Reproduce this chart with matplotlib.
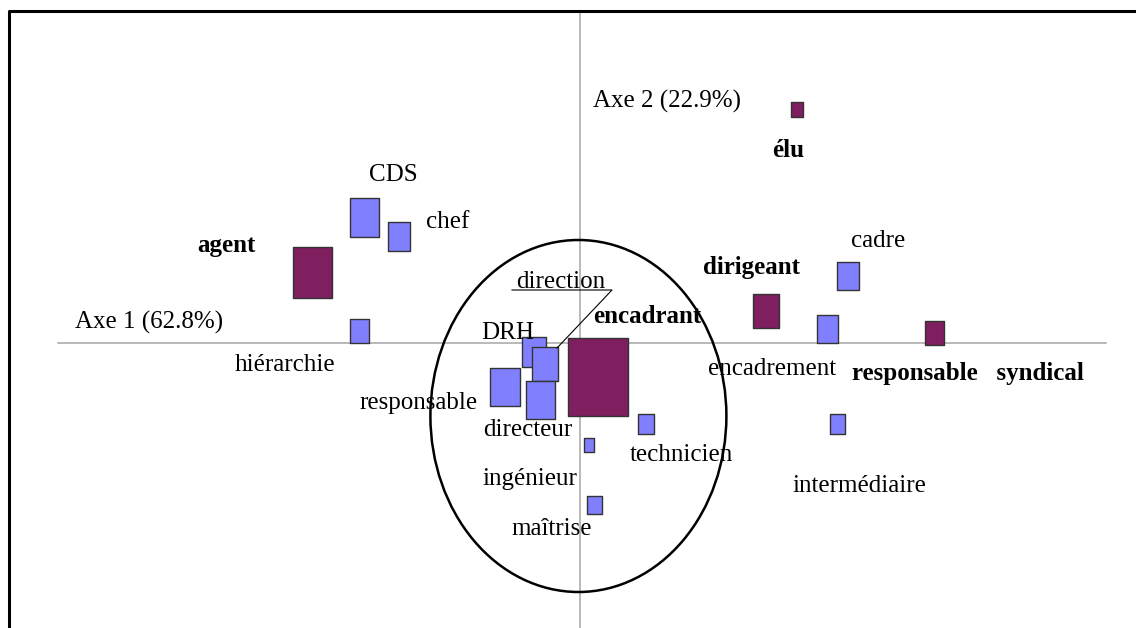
import matplotlib
matplotlib.use("Agg")
import matplotlib.pyplot as plt
import numpy as np
from matplotlib.patches import Ellipse
from matplotlib.path import Path
from matplotlib.lines import Line2D

# coordonnees des modalites sur les axes 1 et 2
mots = ['CDS', 'chef', 'hiérarchie', 'agent', 'DRH', 'direction', 'responsable',
        'directeur', 'encadrant', 'technicien', 'ingénieur', 'maîtrise', 'élu',
        'dirigeant', 'cadre', 'encadrement', 'responsable   syndical', 'intermédiaire']
axe1 = [-0.539, -0.453, -0.551, -0.669, -0.115, -0.0875, -0.1875, -0.099, 0.045,
        0.165, 0.0225, 0.036, 0.5425, 0.465, 0.67, 0.619, 0.886, 0.644]
axe2 = [0.314, 0.266, 0.031, 0.176, -0.0225, -0.0525, -0.11, -0.1425, -0.085,
        -0.2025, -0.256, -0.405, 0.584, 0.08, 0.1675, 0.035, 0.026, -0.203]
poids = [14.7, 8.2, 5.8, 26.6, 9.0, 10.9, 14.4, 13.7, 62.4, 4.0, 2.0, 3.5, 2.2,
         10.9, 8.4, 8.0, 5.8, 4.0]
gras = [0, 0, 0, 1, 0, 0, 0, 0, 1, 0, 0, 0, 1, 1, 0, 0, 1, 0]

# position des etiquettes (centre, ligne de base)
lab_x = [-0.4675, -0.33, -0.7375, -0.885, -0.181, -0.0475, -0.403, -0.13, 0.1675,
         0.2525, -0.126, -0.071, 0.521, 0.428, 0.745, 0.481, 0.971, 0.6975]
lab_y = [0.405, 0.2875, -0.07, 0.2275, 0.009, 0.137, -0.165, -0.232, 0.051,
         -0.294, -0.355, -0.48, 0.466, 0.1725, 0.241, -0.08, -0.0925, -0.372]

inertie = [62.8, 22.9]

W, H = 1136, 628
fig = plt.figure(figsize=(W/100, H/100), dpi=100)
ax = fig.add_axes([0, 0, 1, 1])
ax.set_xlim(-1.45, 1.39)
ax.set_ylim(-0.7125, 0.8575)
ax.axis('off')

plt.rcParams['font.family'] = ['Liberation Serif', 'DejaVu Serif']

# axes factoriels
ax.plot([-1.305, 1.315], [0, 0], color='#a6a6a6', lw=1.1, zorder=1)
ax.axvline(0, ymin=0, ymax=1-11/H, color='#a6a6a6', lw=1.1, zorder=1)

# marqueur rectangulaire
verts = [(-0.385, -0.5), (0.385, -0.5), (0.385, 0.5), (-0.385, 0.5), (-0.385, -0.5)]
rect = Path(verts, [Path.MOVETO, Path.LINETO, Path.LINETO, Path.LINETO, Path.CLOSEPOLY])

x = np.array(axe1)
y = np.array(axe2)
p = np.array(poids)
g = np.array(gras) == 1
ax.scatter(x[~g], y[~g], s=51.84*p[~g], marker=rect, c='#8080ff',
           edgecolors='#333333', linewidths=1.0, zorder=3)
ax.scatter(x[g], y[g], s=51.84*p[g], marker=rect, c='#7f1f5f',
           edgecolors='#333333', linewidths=1.0, zorder=3)

for i, m in enumerate(mots):
    ax.text(lab_x[i], lab_y[i], m, ha='center', va='baseline', fontsize=18,
            fontweight='bold' if gras[i] else 'normal', zorder=4)

ax.text(-1.2625, 0.035, 'Axe 1 (%.1f%%)' % inertie[0], ha='left', va='baseline', fontsize=18)
ax.text(0.033, 0.5875, 'Axe 2 (%.1f%%)' % inertie[1], ha='left', va='baseline', fontsize=18)

# trait de rappel pour "direction"
ax.plot([-0.17, 0.08, -0.0575], [0.1325, 0.1325, -0.0125], color='black', lw=0.8, zorder=4)

# ellipse autour du groupe central
ax.add_patch(Ellipse((-0.004, -0.1825), 0.74, 0.88, fill=False, ec='black', lw=1.8, zorder=5))

# cadre
fig.add_artist(Line2D([9/W, 9/W, 1.01], [-0.01, 1-11/H, 1-11/H],
                      transform=fig.transFigure, color='black', lw=2.2))

fig.savefig('out.png', dpi=100)
